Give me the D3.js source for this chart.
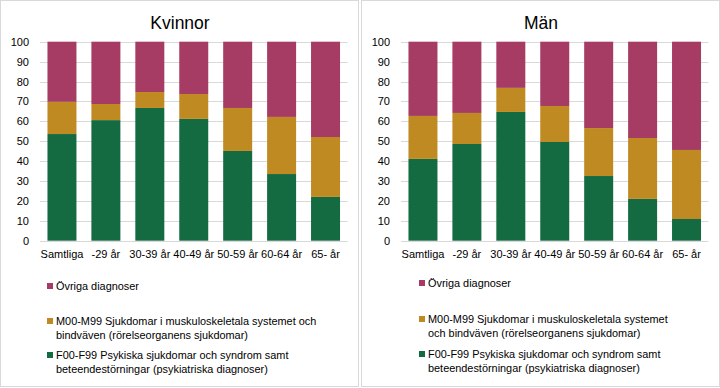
<!DOCTYPE html>
<html>
<head>
<meta charset="UTF-8">
<script src="https://d3js.org/d3.v7.min.js"></script>
<style>
  body { margin: 0; background: #fff; }
  text { font-family: "Liberation Sans", Arial, sans-serif; fill: #000; }
  .tick text { font-size: 11px; }
  .title { font-size: 17.5px; }
  .leg { font-size: 10.9px; fill: #000; }
</style>
</head>
<body>
<svg id="chart" width="720" height="388"></svg>
<script>
// categories along the x axis
const categories = ["Samtliga", "-29 år", "30-39 år", "40-49 år", "50-59 år", "60-64 år", "65- år"];
const yTicks = [0, 10, 20, 30, 40, 50, 60, 70, 80, 90, 100];

// Kvinnor, percent per group
const kvinnorF = [53.6, 60.6, 66.7, 61.2, 45.1, 33.5, 22.0];
const kvinnorM = [16.2, 8.1, 8.0, 12.5, 21.6, 28.7, 30.1];
const kvinnorO = [30.2, 31.3, 25.3, 26.3, 33.3, 37.8, 47.9];

// Män, percent per group
const manF = [41.1, 48.6, 64.7, 49.6, 32.5, 21.0, 10.9];
const manM = [21.6, 15.6, 12.1, 18.1, 24.1, 30.6, 34.7];
const manO = [37.3, 35.8, 23.2, 32.3, 43.4, 48.4, 54.4];

const seriesNames = ["F00-F99", "M00-M99", "Övriga"];
const colors = {"F00-F99": "#146b42", "M00-M99": "#c08a22", "Övriga": "#a63b63"};

// legend texts, wrapped like in the original (each panel wraps differently)
const legendKvinnor = [
  ["Övriga", ["Övriga diagnoser"]],
  ["M00-M99", ["M00-M99 Sjukdomar i muskuloskeletala systemet och", "bindväven (rörelseorganens sjukdomar)"]],
  ["F00-F99", ["F00-F99 Psykiska sjukdomar och syndrom samt", "beteendestörningar (psykiatriska diagnoser)"]]
];
const legendMan = [
  ["Övriga", ["Övriga diagnoser"]],
  ["M00-M99", ["M00-M99 Sjukdomar i muskuloskeletala systemet", "och bindväven (rörelseorganens sjukdomar)"]],
  ["F00-F99", ["F00-F99 Psykiska sjukdomar och syndrom samt", "beteendestörningar (psykiatriska diagnoser)"]]
];

const svg = d3.select("#chart");

function drawPanel(x0, title, f, m, o, legend, legX, legYs) {
  const g = svg.append("g").attr("transform", "translate(" + x0 + ",0)");

  // panel border
  g.append("rect").attr("x", 0.5).attr("y", 0.5).attr("width", 358).attr("height", 386)
    .attr("fill", "none").attr("stroke", "#d9d9d9");

  const left = 40, right = 347.5, top = 41.7, bottom = 240.7;
  const x = d3.scaleBand().domain(categories).range([left, right]).paddingInner(0.34).paddingOuter(0.17);
  const y = d3.scaleLinear().domain([0, 100]).range([bottom, top]);

  // gridlines
  g.append("g").selectAll("line").data(yTicks).join("line")
    .attr("x1", left).attr("x2", right)
    .attr("y1", d => Math.round(y(d)) + 0.5).attr("y2", d => Math.round(y(d)) + 0.5)
    .attr("stroke", "#d9d9d9").attr("stroke-width", 1);

  // stacked data
  const rows = categories.map((c, i) => ({cat: c, "F00-F99": f[i], "M00-M99": m[i], "Övriga": o[i]}));
  const stack = d3.stack().keys(seriesNames)(rows);

  g.append("g").selectAll("g").data(stack).join("g")
    .attr("fill", d => colors[d.key])
    .selectAll("rect").data(d => d).join("rect")
    .attr("x", d => x(d.data.cat))
    .attr("width", x.bandwidth())
    .attr("y", d => y(d[1]))
    .attr("height", d => y(d[0]) - y(d[1]));

  // y axis
  const ya = g.append("g").attr("transform", "translate(" + (left - 11) + ",0)")
    .call(d3.axisLeft(y).tickValues(yTicks).tickSize(0).tickPadding(0));
  ya.select(".domain").remove();

  // x axis
  const xa = g.append("g").attr("transform", "translate(0," + bottom + ")")
    .call(d3.axisBottom(x).tickSize(0).tickPadding(10));
  xa.select(".domain").remove();

  g.append("text").attr("class", "title").attr("x", 180).attr("y", 29)
    .attr("text-anchor", "middle").text(title);

  // legend
  legend.forEach((item, i) => {
    const key = item[0], lines = item[1];
    const ly = legYs[i];
    g.append("rect").attr("x", legX - 9).attr("y", ly - 7).attr("width", 6).attr("height", 6)
      .attr("fill", colors[key]);
    const t = g.append("text").attr("class", "leg").attr("x", legX).attr("y", ly);
    lines.forEach((ln, j) => {
      t.append("tspan").attr("x", legX).attr("y", ly + j * 13.7).text(ln);
    });
  });
}

drawPanel(0, "Kvinnor", kvinnorF, kvinnorM, kvinnorO, legendKvinnor, 56, [290, 325, 359]);
drawPanel(361, "Män", manF, manM, manO, legendMan, 67, [287, 323, 358]);
</script>
</body>
</html>
